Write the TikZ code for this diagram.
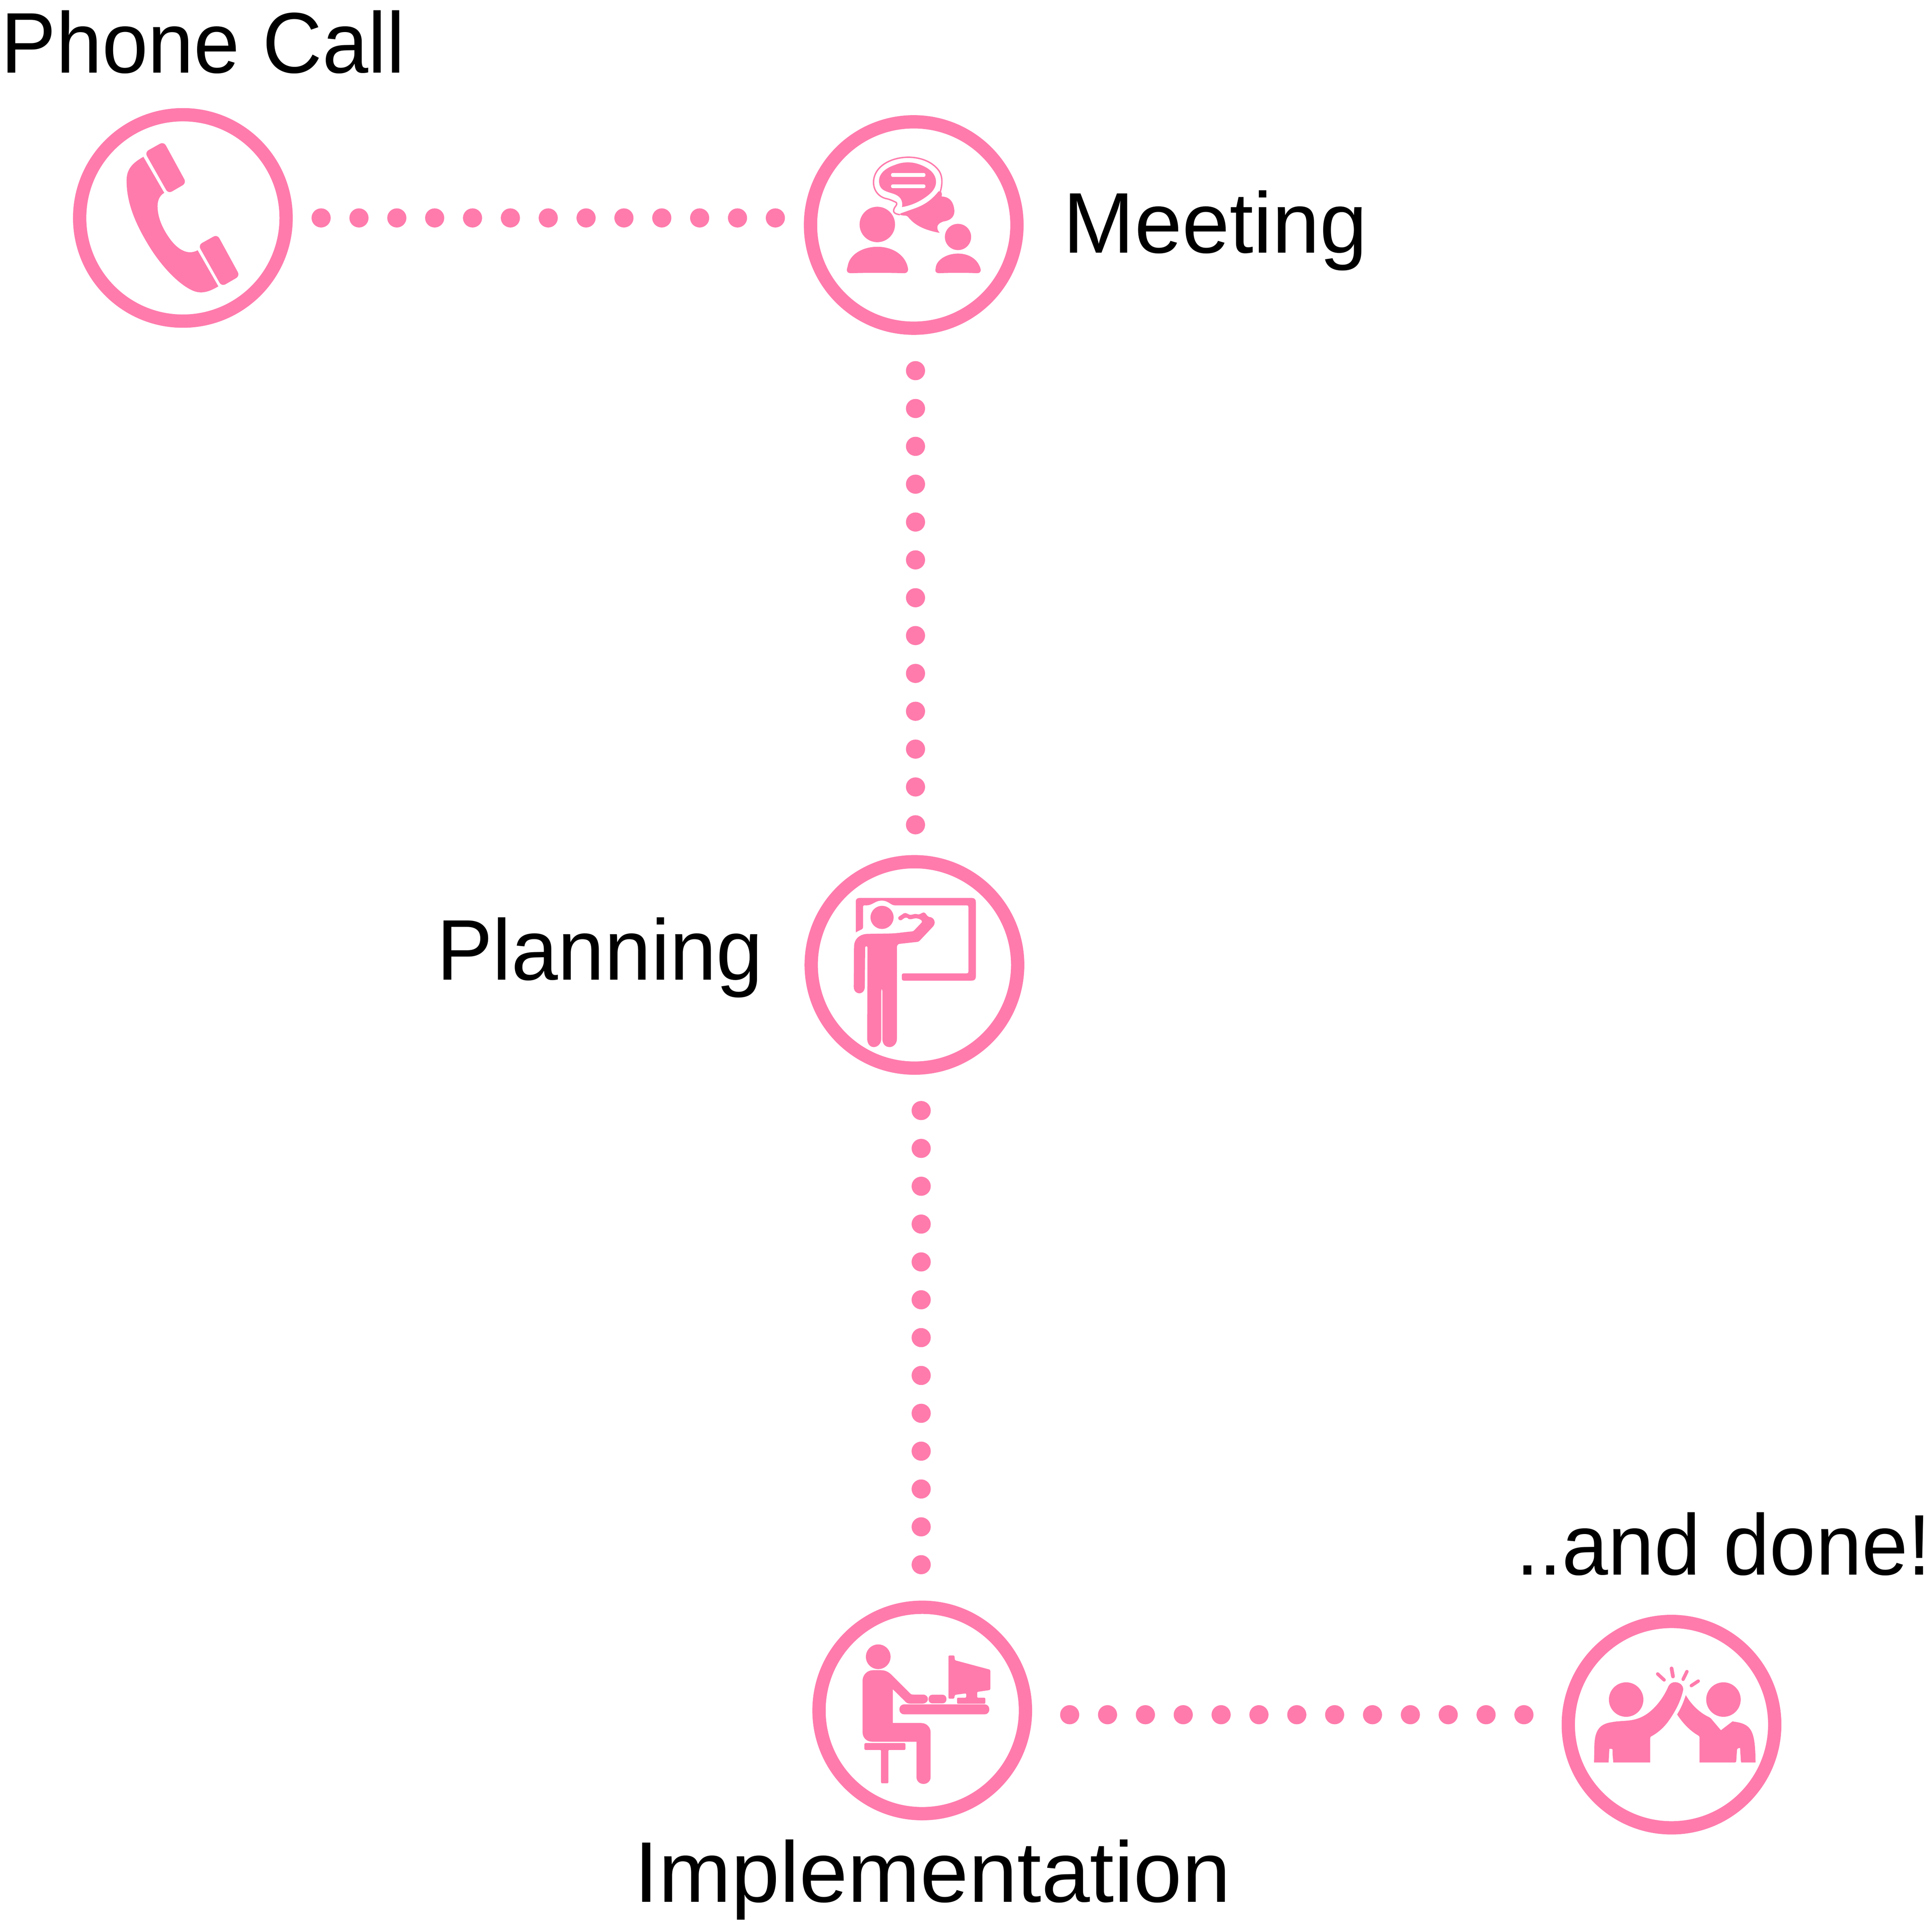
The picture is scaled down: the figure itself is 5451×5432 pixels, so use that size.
\documentclass[tikz,border=0pt]{standalone}
\usepackage{fontspec}
\usepackage{graphicx}
\setmainfont[FakeStretch=0.94]{Liberation Sans}
\definecolor{rosepink}{HTML}{FF7BAC}
\tikzset{
  ring/.style={circle,draw=rosepink,line width=37.5pt,minimum size=582.5pt,inner sep=0pt,outer sep=0pt},
  dotlink/.style={draw=rosepink,line width=54pt,line cap=round,dash pattern=on 0pt off 106.8pt},
  caption/.style={anchor=base west,inner sep=0pt,outer sep=0pt,text=black,font=\fontsize{243pt}{290pt}\selectfont},
  icon/.style={shift={#1},x=0.4464pt,y=-0.4464pt},
  ink/.style={fill=rosepink,draw=none}
}
\begin{document}
\begin{tikzpicture}[x=1pt,y=-1pt]
\useasboundingbox (0,0) rectangle (5451,5432);
% rings
\node[ring] (phone) at (516,615) {};
\node[ring] (meeting) at (2578,635) {};
\node[ring] (planning) at (2580,2723) {};
\node[ring] (impl) at (2602,4827) {};
\node[ring] (done) at (4716,4867) {};
% connector ends
\coordinate (phoneOut) at (906,615);
\coordinate (meetingIn) at (2190,615);
\coordinate (meetingOut) at (2583,1046);
\coordinate (planningIn) at (2583,2331);
\coordinate (planningOut) at (2599,3134);
\coordinate (implIn) at (2599,4419);
\coordinate (implOut) at (3018,4839);
\coordinate (doneIn) at (4303,4839);
\draw[dotlink] (phoneOut) -- (meetingIn);
\draw[dotlink] (meetingOut) -- (planningIn);
\draw[dotlink] (planningOut) -- (implIn);
\draw[dotlink] (implOut) -- (doneIn);
% labels
\node[caption] (tphone) at (3,206) {\scalebox{1.02}[1]{Phone Call}};
\node[caption] (tmeeting) at (3000,714) {\scalebox{1.056}[1]{Meeting}};
\node[caption] (tplanning) at (1232,2765) {\scalebox{1.036}[1]{Planning}};
\node[caption] (timpl) at (1790,5368) {\scalebox{1.077}[1]{Implementation}};
\node[caption] (tdone) at (4277,4444) {\scalebox{1.025}[1]{..and done!}};
% phone icon
\begin{scope}[icon={(180,280)}]
\fill[ink] (503,364) -- (635,592) .. controls (600,612) and (590,650) .. (593,690) .. controls (597,760) and (630,830) .. (680,895) .. controls (720,945) and (780,990) .. (846,955) -- (977,1183) .. controls (930,1210) and (880,1235) .. (820,1212) .. controls (730,1175) and (620,1060) .. (540,930) .. controls (460,800) and (395,660) .. (397,510) .. controls (398,430) and (450,395) .. (503,364) -- cycle;
\fill[ink,rounded corners=12pt] (512,335) -- (632,268) -- (775,530) -- (660,597) -- cycle;
\fill[ink,rounded corners=12pt] (850,922) -- (970,855) -- (1113,1117) -- (998,1184) -- cycle;
\end{scope}
% meeting icon
\begin{scope}[icon={(2240,300)}]
\fill[ink] (527,747) circle[radius=112];
\fill[ink] (340,1010) .. controls (350,940) and (430,888) .. (527,888) .. controls (630,888) and (705,945) .. (720,1020) .. controls (726,1045) and (712,1057) .. (690,1055) .. controls (600,1052) and (450,1052) .. (365,1055) .. controls (340,1056) and (330,1045) .. (336,1025) -- cycle;
\fill[ink] (1037,826) circle[radius=83];
\fill[ink] (897,1015) .. controls (905,970) and (965,931) .. (1037,931) .. controls (1110,931) and (1165,970) .. (1180,1030) .. controls (1183,1048) and (1172,1056) .. (1155,1055) .. controls (1100,1052) and (980,1052) .. (920,1055) .. controls (900,1056) and (890,1045) .. (895,1030) -- cycle;
\fill[ink] (683,637) .. controls (690,590) and (670,565) .. (620,550) .. controls (570,535) and (540,525) .. (538,475) .. controls (536,425) and (580,390) .. (640,370) .. controls (695,348) and (750,350) .. (800,370) .. controls (860,393) and (898,430) .. (898,478) .. controls (898,530) and (850,565) .. (800,595) .. controls (765,615) and (725,630) .. (683,637) -- cycle;
\fill[white,rounded corners=4pt] (614,422) rectangle (831,446);
\fill[white,rounded corners=4pt] (614,494) rectangle (831,517);
\draw[rosepink,line width=4pt] (925,540) .. controls (940,490) and (940,440) .. (915,405) .. controls (870,345) and (790,320) .. (715,322) .. controls (610,325) and (505,380) .. (503,480) .. controls (503,540) and (545,578) .. (590,585) .. controls (610,590) and (630,600) .. (645,607) .. controls (655,615) and (648,625) .. (640,635) .. controls (620,665) and (630,680) .. (670,685);
\fill[ink] (914,538) .. controls (860,605) and (810,630) .. (745,652) -- (674,677) -- (670,685) .. controls (690,695) and (710,685) .. (722,700) .. controls (770,760) and (840,785) .. (921,800) .. controls (900,775) and (895,745) .. (945,728) .. controls (1000,720) and (1015,690) .. (1014,660) .. controls (1010,605) and (985,572) .. (933,570) .. controls (938,555) and (935,543) .. (925,538) -- cycle;
\end{scope}
% planning icon
\begin{scope}[icon={(2240,2380)}]
\fill[ink] (391,563) -- (391,370) .. controls (391,350) and (400,345) .. (420,345) -- (1120,345) .. controls (1142,345) and (1150,352) .. (1150,375) -- (1150,838) .. controls (1150,860) and (1142,868) .. (1120,868) -- (695,868) .. controls (680,868) and (682,855) .. (682,845) .. controls (682,832) and (680,822) .. (695,822) -- (1090,822) .. controls (1103,822) and (1103,815) .. (1103,805) -- (1103,405) .. controls (1103,392) and (1098,392) .. (1088,392) -- (640,392) .. controls (610,392) and (600,362) .. (555,362) .. controls (510,362) and (500,392) .. (455,392) .. controls (437,390) and (437,395) .. (437,405) -- (437,530) .. controls (437,545) and (420,545) .. (391,563) -- cycle;
\fill[ink] (557,468) circle[radius=73];
\fill[ink] (380,650) .. controls (382,600) and (420,572) .. (470,572) -- (600,570) .. controls (650,570) and (700,560) .. (745,557) .. controls (752,557) and (757,553) .. (760,550) -- (805,503) .. controls (815,490) and (805,482) .. (785,476) .. controls (760,468) and (745,485) .. (725,478) .. controls (710,462) and (700,470) .. (680,485) .. controls (660,490) and (650,470) .. (668,460) -- (695,442) .. controls (710,435) and (720,450) .. (735,452) .. controls (750,452) and (765,442) .. (780,448) .. controls (800,452) and (805,438) .. (820,437) .. controls (840,440) and (835,465) .. (865,467) .. controls (890,475) and (897,505) .. (880,525) -- (795,615) .. controls (785,625) and (775,623) .. (760,625) -- (670,635) .. controls (652,637) and (651,650) .. (651,660) -- (651,1235) .. controls (651,1270) and (625,1288) .. (605,1288) .. controls (575,1288) and (559,1265) .. (559,1235) -- (559,935) .. controls (558,918) and (552,918) .. (552,935) -- (552,1235) .. controls (552,1270) and (525,1288) .. (505,1288) .. controls (480,1288) and (463,1265) .. (463,1235) -- (465,665) .. controls (467,645) and (448,645) .. (450,665) -- (448,905) .. controls (448,935) and (430,948) .. (412,948) .. controls (390,945) and (378,930) .. (378,905) -- cycle;
\end{scope}
% implementation icon
\begin{scope}[icon={(2260,4500)}]
\fill[ink] (488,393) circle[radius=78];
\fill[ink] (389,540) .. controls (392,505) and (420,478) .. (455,478) -- (505,478) .. controls (535,478) and (555,490) .. (575,510) -- (690,625) .. controls (697,632) and (702,632) .. (712,632) -- (770,632) .. controls (790,632) and (802,645) .. (802,660) .. controls (802,675) and (790,688) .. (770,689) -- (690,689) .. controls (675,689) and (665,685) .. (655,672) -- (580,598) -- (580,812) -- (760,812) .. controls (795,812) and (819,840) .. (819,870) -- (819,1155) .. controls (819,1180) and (797,1197) .. (775,1197) .. controls (750,1197) and (730,1180) .. (730,1155) -- (730,930) -- (450,930) .. controls (415,930) and (389,905) .. (389,870) -- cycle;
\fill[ink,rounded corners=11pt] (806,633) rectangle (919,688);
\fill[ink,rounded corners=13pt] (622,694) rectangle (1190,757);
\fill[ink,rounded corners=3pt] (401,939) -- (660,939) -- (660,982) -- (552,982) -- (552,1193) -- (506,1193) -- (506,982) -- (401,982) -- cycle;
\fill[ink,rounded corners=3pt] (932,385) -- (970,385) -- (972,415) -- (1196,475) -- (1196,603) -- (1113,615) -- (1113,652) -- (1165,652) -- (1165,690) -- (986,690) -- (986,652) -- (1044,652) -- (1044,624) -- (972,634) -- (968,658) -- (932,658) -- cycle;
\end{scope}
% done icon
\begin{scope}[icon={(4380,4540)}]
\fill[ink] (466,574) circle[radius=109];
\fill[ink] (1081,574) circle[radius=109];
\fill[ink] (263,972) -- (265,880) .. controls (265,780) and (290,730) .. (370,718) .. controls (430,705) and (490,715) .. (550,690) .. controls (630,660) and (700,570) .. (733,490) .. controls (745,470) and (760,463) .. (778,464) .. controls (810,466) and (830,490) .. (826,515) .. controls (810,590) and (770,660) .. (730,715) .. controls (700,755) and (665,785) .. (622,808) .. controls (618,812) and (618,815) .. (618,820) -- (618,972) -- (385,972) -- (380,920) -- (380,890) .. controls (378,885) and (370,885) .. (360,885) -- (355,972) -- cycle;
\fill[ink] (843,546) .. controls (880,610) and (935,660) .. (990,685) .. controls (1005,692) and (1010,705) .. (1020,715) -- (1065,768) -- (1138,712) .. controls (1180,718) and (1220,725) .. (1245,755) .. controls (1280,795) and (1282,880) .. (1284,972) -- (1195,972) .. controls (1192,972) and (1191,965) .. (1191,960) -- (1186,880) .. controls (1170,881) and (1166,885) .. (1166,900) -- (1162,960) .. controls (1162,972) and (1155,972) .. (1145,972) -- (930,972) -- (930,815) .. controls (930,805) and (925,803) .. (915,797) .. controls (870,770) and (825,725) .. (788,668) .. controls (815,625) and (830,585) .. (843,546) -- cycle;
\draw[rosepink,line width=9.5pt,line cap=round] (665,412) -- (706,450);
\draw[rosepink,line width=10.5pt,line cap=round] (753,377) -- (762,428);
\draw[rosepink,line width=9.5pt,line cap=round] (850,397) -- (826,446);
\draw[rosepink,line width=9.5pt,line cap=round] (922,457) -- (878,486);
\end{scope}
\end{tikzpicture}
\end{document}
